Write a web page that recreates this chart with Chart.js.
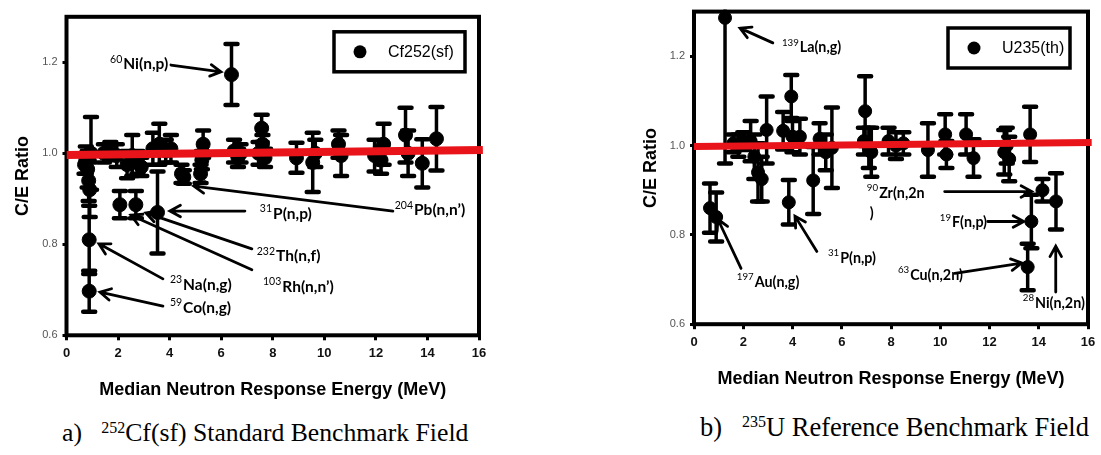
<!DOCTYPE html>
<html>
<head>
<meta charset="utf-8">
<script src="https://cdn.jsdelivr.net/npm/chart.js@4.4.1/dist/chart.umd.min.js"></script>
<style>
  html, body { margin: 0; padding: 0; background: #fff; width: 1101px; height: 455px; overflow: hidden; }
  canvas { position: absolute; top: 0; }
  #cfChart { left: 0; }
  #uChart { left: 560px; }
  .caption { position: absolute; font-family: "Liberation Serif", "Times New Roman", serif; color: #000; white-space: pre; line-height: 30px; }
  .caption sup { font-size: 16px; vertical-align: top; position: relative; top: -5px; }
  #capA { left: 62px; top: 418px; font-size: 25.7px; }
  #capB { left: 700px; top: 412px; font-size: 26.5px; }
</style>
</head>
<body>
<canvas id="cfChart" width="560" height="410"></canvas>
<canvas id="uChart" width="541" height="410"></canvas>
<div class="caption" id="capA">a)   <sup>252</sup>Cf(sf) Standard Benchmark Field</div>
<div class="caption" id="capB">b)   <sup>235</sup>U Reference Benchmark Field</div>

<script>
// ---------- shared axis ticks ----------
const energyTicks = [0, 2, 4, 6, 8, 10, 12, 14, 16];
const ratioTicks = [0.6, 0.8, 1.0, 1.2];

// ---------- 252Cf(sf) field ----------
const cfEnergy = [0.75, 0.82, 0.86, 0.90, 0.95, 0.88, 0.88, 0.70,
  1.45, 1.70, 1.95, 2.35, 2.55, 2.75, 2.90, 2.07, 2.69, 3.53,
  3.35, 3.60, 3.85, 4.05, 4.46, 4.55, 5.30, 5.25, 5.20, 6.40,
  6.50, 6.65, 6.75, 7.57, 7.60, 7.45, 7.70, 8.92, 9.55, 9.65,
  10.55, 10.65, 11.95, 12.30, 12.20, 13.15, 13.25, 13.80, 14.35];
const cfRatio = [0.985, 0.965, 0.940, 0.920, 1.000, 0.810, 0.697, 0.975,
  1.000, 1.005, 0.995, 0.975, 0.995, 0.980, 0.970, 0.887, 0.887, 0.870,
  1.010, 1.020, 1.005, 1.010, 0.955, 0.948, 1.020, 0.985, 0.955, 1.173,
  1.005, 0.990, 1.000, 1.055, 1.020, 1.000, 0.990, 0.990, 0.980, 1.000,
  1.020, 0.995, 0.995, 1.020, 0.985, 1.040, 1.000, 0.978, 1.032];
const cfError = [0.030, 0.040, 0.045, 0.060, 0.080, 0.075, 0.045, 0.020,
  0.020, 0.020, 0.025, 0.030, 0.045, 0.025, 0.020, 0.030, 0.030, 0.090,
  0.035, 0.045, 0.025, 0.030, 0.020, 0.015, 0.030, 0.020, 0.020, 0.067,
  0.025, 0.020, 0.020, 0.030, 0.020, 0.025, 0.020, 0.033, 0.065, 0.030,
  0.030, 0.045, 0.035, 0.045, 0.030, 0.060, 0.050, 0.053, 0.070];
const cfUnityX = [0, 16.15];
const cfUnityY = [0.996, 1.007];

// reaction labels with arrows (label anchor, arrow tail, arrow head, in axis units)
const cfMass = ['60', '31', '204', '232', '103', '23', '59'];
const cfReaction = ['Ni(n,p)', 'P(n,p)', 'Pb(n,n\u2019)', 'Th(n,f)', 'Rh(n,n\u2019)', 'Na(n,g)', 'Co(n,g)'];
const cfLabelAt = [[1.69, 1.196], [7.50, 0.867], [12.73, 0.875], [7.38, 0.774], [7.62, 0.706], [4.01, 0.711], [4.01, 0.660]];
const cfArrowFrom = [[4.05, 1.194], [6.92, 0.873], [12.66, 0.873], [7.19, 0.790], [7.19, 0.744], [3.74, 0.724], [3.74, 0.664]];
const cfArrowTo = [[5.99, 1.179], [4.01, 0.873], [4.94, 0.928], [3.08, 0.869], [2.50, 0.864], [1.26, 0.801], [1.30, 0.695]];

// ---------- 235U thermal field ----------
const uEnergy = [0.65, 0.90, 1.26, 1.60, 1.80, 2.00, 2.30, 2.45, 2.60, 2.75,
  2.95, 3.62, 3.95, 4.00, 4.30, 3.85, 4.84, 5.10, 5.35, 5.60,
  6.95, 6.90, 7.10, 7.20, 7.90, 8.20, 8.50, 9.50, 10.20, 10.25,
  11.05, 11.35, 12.60, 12.80, 12.70, 13.65, 14.15, 13.70, 13.55, 14.70];
const uRatio = [0.860, 0.840, 1.286, 1.005, 1.000, 1.010, 1.010, 0.975, 0.940, 0.925,
  1.035, 1.033, 1.110, 1.020, 1.020, 0.873, 0.922, 1.015, 0.985, 0.995,
  1.077, 1.010, 0.995, 0.985, 1.010, 1.000, 1.005, 0.990, 1.025, 0.980,
  1.025, 0.972, 0.985, 0.970, 1.000, 1.025, 0.900, 0.830, 0.728, 0.875];
const uError = [0.055, 0.055, 0.326, 0.020, 0.025, 0.020, 0.045, 0.050, 0.065, 0.050,
  0.075, 0.042, 0.048, 0.035, 0.040, 0.050, 0.075, 0.035, 0.040, 0.090,
  0.078, 0.030, 0.045, 0.055, 0.030, 0.030, 0.025, 0.060, 0.045, 0.030,
  0.045, 0.042, 0.050, 0.050, 0.040, 0.062, 0.025, 0.060, 0.052, 0.063];
const uUnityX = [0, 16.15];
const uUnityY = [0.998, 1.007];

const uMass = ['139', '197', '31', '90', '19', '63', '28'];
const uReaction = ['La(n,g)', 'Au(n,g)', 'P(n,p)', 'Zr(n,2n\n)', 'F(n,p)', 'Cu(n,2n)', 'Ni(n,2n)'];
const uLabelAt = [[3.57, 1.219], [1.74, 0.694], [5.44, 0.748], [7.02, 0.893], [9.98, 0.828], [8.28, 0.710], [13.35, 0.647]];
const uArrowFrom = [[3.20, 1.230], [1.91, 0.725], [4.99, 0.763], [10.18, 0.897], [11.93, 0.830], [10.59, 0.714], [14.69, 0.672]];
const uArrowTo = [[1.87, 1.263], [0.97, 0.835], [4.10, 0.842], [13.71, 0.897], [13.39, 0.830], [13.31, 0.737], [14.69, 0.775]];

// ---------- plugins ----------
const frame = {
  id: 'frame',
  beforeDatasetsDraw(chart) {
    const { ctx, chartArea: a } = chart;
    ctx.save();
    ctx.strokeStyle = '#000';
    ctx.lineWidth = 4;
    ctx.strokeRect(a.left, a.top, a.right - a.left, a.bottom - a.top);
    ctx.restore();
  }
};

const errorBars = {
  id: 'errorBars',
  beforeDatasetDraw(chart, args, opts) {
    const ds = chart.data.datasets[args.index];
    if (!ds.errors) return;
    const { ctx, chartArea: a, scales: { x, y } } = chart;
    ctx.save();
    ctx.beginPath();
    ctx.rect(a.left, a.top - 2, a.right - a.left, a.bottom - a.top + 2);
    ctx.clip();
    ctx.strokeStyle = '#000';
    ds.data.forEach((p, i) => {
      const e = ds.errors[i];
      const px = x.getPixelForValue(p.x);
      const hi = y.getPixelForValue(p.y + e);
      const lo = y.getPixelForValue(p.y - e);
      ctx.lineCap = 'butt';
      ctx.lineWidth = opts.width;
      ctx.beginPath();
      ctx.moveTo(px, hi);
      ctx.lineTo(px, lo);
      ctx.stroke();
      ctx.lineCap = 'round';
      ctx.lineWidth = opts.capThickness;
      ctx.beginPath();
      ctx.moveTo(px - opts.cap, hi); ctx.lineTo(px + opts.cap, hi);
      ctx.moveTo(px - opts.cap, lo); ctx.lineTo(px + opts.cap, lo);
      ctx.stroke();
    });
    ctx.restore();
  }
};

function drawArrow(ctx, x1, y1, x2, y2) {
  const ang = Math.atan2(y2 - y1, x2 - x1);
  const head = 12, spread = 0.5;
  ctx.beginPath();
  ctx.moveTo(x1, y1);
  ctx.lineTo(x2, y2);
  ctx.moveTo(x2 - head * Math.cos(ang - spread), y2 - head * Math.sin(ang - spread));
  ctx.lineTo(x2, y2);
  ctx.lineTo(x2 - head * Math.cos(ang + spread), y2 - head * Math.sin(ang + spread));
  ctx.stroke();
}

const reactionNotes = {
  id: 'reactionNotes',
  afterDatasetsDraw(chart, args, opts) {
    const { ctx, scales: { x, y } } = chart;
    ctx.save();
    ctx.strokeStyle = '#000';
    ctx.fillStyle = '#000';
    ctx.lineWidth = 2.8;
    ctx.lineCap = 'round';
    ctx.lineJoin = 'miter';
    opts.reaction.forEach((txt, i) => {
      const f = opts.from[i], t = opts.to[i];
      drawArrow(ctx, x.getPixelForValue(f[0]), y.getPixelForValue(f[1]),
                     x.getPixelForValue(t[0]), y.getPixelForValue(t[1]));
      const lx = x.getPixelForValue(opts.at[i][0]);
      const ly = y.getPixelForValue(opts.at[i][1]);
      ctx.textBaseline = 'middle';
      ctx.textAlign = 'left';
      ctx.font = (opts.size * 0.68) + 'px Lato, "Liberation Sans", sans-serif';
      ctx.fillText(opts.mass[i], lx, ly - 5);
      const mw = ctx.measureText(opts.mass[i]).width;
      ctx.font = 'bold ' + opts.size + 'px Lato, "Liberation Sans", sans-serif';
      const lines = txt.split('\n');
      ctx.fillText(lines[0], lx + mw + 1, ly);
      if (lines[1]) ctx.fillText(lines[1], lx + 3, ly + 20);
    });
    ctx.restore();
  }
};

const boxLegend = {
  id: 'boxLegend',
  afterDatasetsDraw(chart, args, opts) {
    const { ctx, chartArea: a } = chart;
    const bx = a.right - opts.offsetRight, by = a.top + opts.offsetTop;
    ctx.save();
    ctx.fillStyle = '#fff';
    ctx.fillRect(bx, by, opts.w, opts.h);
    ctx.strokeStyle = '#000';
    ctx.lineWidth = 3.5;
    ctx.strokeRect(bx, by, opts.w, opts.h);
    ctx.fillStyle = '#000';
    ctx.beginPath();
    ctx.arc(bx + 26, by + opts.h / 2, 6.5, 0, Math.PI * 2);
    ctx.fill();
    ctx.font = '16px "Liberation Sans", Arial, sans-serif';
    ctx.textBaseline = 'middle';
    ctx.textAlign = 'left';
    ctx.fillText(opts.text, bx + 54, by + opts.h / 2 + 1);
    ctx.restore();
  }
};

Chart.register(frame, errorBars, reactionNotes, boxLegend);

function buildChart(id, cfg) {
  const points = cfg.energy.map((e, i) => ({ x: e, y: cfg.ratio[i] }));
  const unity = cfg.unityX.map((e, i) => ({ x: e, y: cfg.unityY[i] }));
  return new Chart(document.getElementById(id), {
    type: 'scatter',
    data: {
      datasets: [
        {
          label: cfg.legend,
          data: points,
          errors: cfg.error,
          backgroundColor: '#000',
          borderColor: '#000',
          pointRadius: cfg.radius,
          pointHoverRadius: cfg.radius,
          order: 2
        },
        {
          type: 'line',
          label: 'C/E = 1',
          data: unity,
          borderColor: '#e8141a',
          borderWidth: cfg.lineWidth,
          pointRadius: 0,
          fill: false,
          clip: { left: 0, top: 0, right: 10, bottom: 0 },
          order: 1
        }
      ]
    },
    options: {
      responsive: false,
      animation: false,
      events: [],
      layout: { padding: cfg.padding },
      plugins: {
        legend: { display: false },
        tooltip: { enabled: false },
        errorBars: { width: 3.5, cap: 6, capThickness: 4.5 },
        reactionNotes: { mass: cfg.mass, reaction: cfg.reaction, at: cfg.labelAt, from: cfg.arrowFrom, to: cfg.arrowTo, size: cfg.noteSize },
        boxLegend: cfg.legendBox
      },
      scales: {
        x: {
          type: 'linear',
          min: 0, max: 16,
          afterBuildTicks: s => { s.ticks = energyTicks.map(v => ({ value: v })); },
          afterFit: s => { s.height = cfg.xHeight; },
          border: { display: false },
          grid: { drawOnChartArea: false, drawTicks: true, tickLength: 5, color: '#000', lineWidth: 3 },
          ticks: { color: '#111', padding: 5, maxRotation: 0, font: { family: '"Liberation Sans", Arial, sans-serif', weight: 'bold', size: 13 } },
          title: {
            display: true,
            text: 'Median Neutron Response Energy (MeV)',
            color: '#000',
            font: { family: '"Liberation Sans", Arial, sans-serif', weight: 'bold', size: 18 },
            padding: { top: 0, bottom: cfg.xTitlePad }
          }
        },
        y: {
          type: 'linear',
          min: 0.6, max: 1.3,
          afterBuildTicks: s => { s.ticks = ratioTicks.map(v => ({ value: v })); },
          afterFit: s => { s.width = cfg.yWidth; },
          border: { display: false },
          grid: { drawOnChartArea: false, drawTicks: true, tickLength: 4, color: '#000', lineWidth: 3 },
          ticks: { color: '#555', padding: 5, callback: v => Number(v).toFixed(1), font: { family: '"Liberation Sans", Arial, sans-serif', size: 11 } },
          title: {
            display: true,
            text: 'C/E Ratio',
            color: '#000',
            font: { family: '"Liberation Sans", Arial, sans-serif', weight: 'bold', size: 18 },
            padding: { top: cfg.yTitlePad, bottom: 0 }
          }
        }
      }
    }
  });
}

buildChart('cfChart', {
  energy: cfEnergy, ratio: cfRatio, error: cfError,
  unityX: cfUnityX, unityY: cfUnityY,
  mass: cfMass, reaction: cfReaction, labelAt: cfLabelAt, arrowFrom: cfArrowFrom, arrowTo: cfArrowTo,
  legend: 'Cf252(sf)',
  legendBox: { text: 'Cf252(sf)', offsetRight: 145, offsetTop: 15, w: 131, h: 40 },
  radius: 7, lineWidth: 8, noteSize: 15.5,
  padding: { left: 0, top: 16.8, right: 81, bottom: 0 },
  xHeight: 74.7, yWidth: 66.5, xTitlePad: 9, yTitlePad: 12
});

buildChart('uChart', {
  energy: uEnergy, ratio: uRatio, error: uError,
  unityX: uUnityX, unityY: uUnityY,
  mass: uMass, reaction: uReaction, labelAt: uLabelAt, arrowFrom: uArrowFrom, arrowTo: uArrowTo,
  legend: 'U235(th)',
  legendBox: { text: 'U235(th)', offsetRight: 140, offsetTop: 16.4, w: 122, h: 40 },
  radius: 6.5, lineWidth: 7, noteSize: 14.3,
  padding: { left: 80, top: 10.6, right: 13, bottom: 0 },
  xHeight: 85.8, yWidth: 54, xTitlePad: 20, yTitlePad: 0
});
</script>
</body>
</html>
